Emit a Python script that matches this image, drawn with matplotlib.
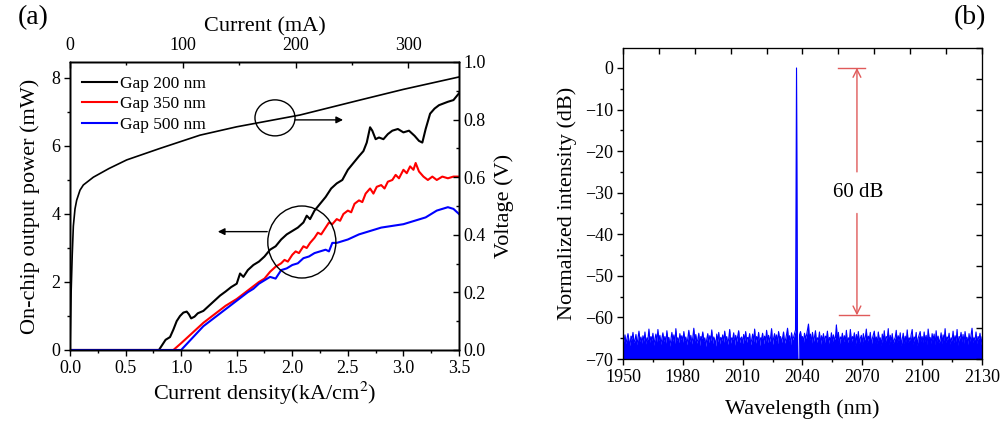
import numpy as np
import matplotlib
matplotlib.use("Agg")
import matplotlib.pyplot as plt
from matplotlib.patches import Ellipse
from matplotlib.ticker import MultipleLocator, FixedLocator, FormatStrFormatter

plt.rcParams['font.family'] = ['Liberation Serif', 'DejaVu Serif']
plt.rcParams['mathtext.fontset'] = 'stix'

# ---------------- Data: panel (a) ----------------
j_v = [0, 0.005, 0.01, 0.02, 0.03, 0.045, 0.06, 0.09, 0.12, 0.21, 0.35, 0.51, 0.81,
       1.17, 1.5, 2.07, 2.61, 3.0, 3.5]
voltage = [0, 0.1, 0.2, 0.33, 0.43, 0.49, 0.52, 0.555, 0.573, 0.60, 0.63, 0.66, 0.70,
           0.746, 0.775, 0.816, 0.868, 0.905, 0.948]

j_200 = [0, 0.80, 0.83, 0.86, 0.9, 0.93, 0.96, 0.99, 1.02, 1.05, 1.07, 1.09, 1.12, 1.15,
         1.2, 1.25, 1.3, 1.35, 1.4, 1.45, 1.5, 1.53, 1.56, 1.6, 1.65, 1.7, 1.75, 1.8,
         1.85, 1.9, 1.95, 2.0, 2.05, 2.1, 2.13, 2.16, 2.2, 2.25, 2.3, 2.35, 2.4, 2.45,
         2.5, 2.55, 2.6, 2.64, 2.67, 2.70, 2.72, 2.75, 2.78, 2.82, 2.86, 2.9, 2.95, 3.0,
         3.05, 3.1, 3.14, 3.17, 3.2, 3.24, 3.28, 3.32, 3.36, 3.4, 3.45, 3.5]
p_200 = [0, 0, 0.15, 0.3, 0.38, 0.6, 0.85, 1.0, 1.1, 1.13, 1.05, 0.93, 0.98, 1.08,
         1.15, 1.3, 1.45, 1.6, 1.72, 1.85, 1.95, 2.25, 2.15, 2.35, 2.5, 2.6, 2.75, 2.95,
         3.05, 3.25, 3.4, 3.5, 3.6, 3.75, 3.95, 3.85, 4.1, 4.3, 4.5, 4.75, 4.9, 5.0,
         5.3, 5.5, 5.7, 5.85, 6.1, 6.55, 6.45, 6.2, 6.25, 6.2, 6.35, 6.45, 6.5, 6.4,
         6.45, 6.3, 6.15, 6.1, 6.5, 6.95, 7.1, 7.2, 7.25, 7.3, 7.35, 7.55]

j_350 = [0, 0.93, 1.0, 1.1, 1.2, 1.3, 1.4, 1.5, 1.6, 1.7, 1.75, 1.8, 1.85, 1.9, 1.93,
         1.96, 2.0, 2.03, 2.06, 2.1, 2.13, 2.16, 2.2, 2.23, 2.26, 2.3, 2.33, 2.36, 2.4,
         2.43, 2.46, 2.5, 2.53, 2.56, 2.6, 2.63, 2.66, 2.7, 2.73, 2.76, 2.8, 2.83, 2.86,
         2.9, 2.93, 2.96, 3.0, 3.03, 3.06, 3.09, 3.11, 3.14, 3.18, 3.22, 3.26, 3.3, 3.35,
         3.4, 3.45, 3.5]
p_350 = [0, 0, 0.2, 0.5, 0.8, 1.05, 1.3, 1.5, 1.75, 2.0, 2.1, 2.3, 2.45, 2.55, 2.65,
         2.6, 2.8, 2.9, 2.85, 3.05, 3.0, 3.15, 3.3, 3.45, 3.4, 3.6, 3.75, 3.7, 3.85,
         3.8, 4.0, 4.1, 4.05, 4.3, 4.4, 4.35, 4.6, 4.75, 4.6, 4.8, 4.85, 4.75, 4.95,
         5.0, 5.15, 5.05, 5.3, 5.2, 5.4, 5.3, 5.5, 5.25, 5.1, 5.0, 5.1, 5.0, 5.1,
         5.05, 5.1, 5.1]

j_500 = [0, 1.0, 1.1, 1.2, 1.3, 1.4, 1.5, 1.6, 1.65, 1.7, 1.75, 1.8, 1.85, 1.9, 1.95,
         2.0, 2.05, 2.1, 2.15, 2.2, 2.25, 2.3, 2.33, 2.36, 2.4, 2.5, 2.6, 2.7, 2.75,
         2.8, 2.9, 3.0, 3.1, 3.2, 3.25, 3.3, 3.35, 3.4, 3.45, 3.5]
p_500 = [0, 0, 0.35, 0.7, 0.95, 1.2, 1.45, 1.7, 1.8, 1.95, 2.05, 2.15, 2.1, 2.35, 2.4,
         2.5, 2.55, 2.7, 2.75, 2.85, 2.9, 2.95, 2.9, 3.15, 3.15, 3.25, 3.4, 3.5, 3.55,
         3.6, 3.65, 3.7, 3.8, 3.9, 4.0, 4.1, 4.15, 4.2, 4.15, 4.0]

legend_labels = ["Gap 200 nm", "Gap 350 nm", "Gap 500 nm"]

# ---------------- Data: panel (b) ----------------
wl_start, wl_stop, wl_step = 1950, 2130, 0.5
intensity = [
    -64.8, -65.9, -64.2, -66.3, -65.1, -63.9, -65.6, -66.8, -64.5, -65.2, -63.6, -66.1, -65.4, -64.1, -66.6, -65.0, -63.3, -65.8, -64.7, -66.2,
    -64.4, -65.7, -63.5, -66.4, -64.9, -65.3, -62.8, -66.0, -64.6, -65.5, -63.8, -66.7, -65.1, -64.0, -65.9, -62.9, -65.6, -64.3, -66.5, -65.0,
    -63.7, -65.8, -64.6, -66.2, -63.2, -65.4, -64.8, -66.9, -65.2, -63.6, -65.7, -64.2, -66.3, -62.7, -65.5, -64.9, -66.1, -63.9, -65.3, -64.4,
    -66.0, -63.4, -65.6, -64.7, -66.6, -65.0, -63.1, -65.9, -64.3, -66.4, -64.8, -62.6, -65.7, -64.1, -66.2, -65.3, -63.8, -66.8, -64.6, -65.1,
    -63.5, -65.8, -64.9, -67.0, -65.2, -63.9, -66.1, -64.4, -65.6, -63.0, -66.3, -64.7, -65.4, -66.9, -64.0, -65.9, -63.6, -66.4, -64.8, -65.5,
    -64.2, -66.0, -63.3, -65.7, -64.6, -66.5, -65.1, -62.9, -66.2, -64.9, -65.3, -63.7, -66.7, -64.3, -65.8, -64.5, -63.2, -66.1, -65.0, -64.7,
    -66.3, -64.1, -65.6, -63.4, -66.0, -64.8, -65.2, -63.9, -66.6, -65.4, -64.0, -65.9, -62.8, -66.2, -64.6, -65.5, -63.6, -66.8, -64.9, -65.1,
    -63.8, -66.4, -64.5, -65.7, -63.1, -66.1, -64.3, -65.8, -64.8, -62.7, -66.5, -65.0, -63.9, -65.6, -64.2, -66.3, -63.4, -65.2, -64.6, -66.0,
    -64.9, -63.5, -66.2, -65.3, -64.1, -62.6, -65.7, -64.4, -66.6, -63.7, -65.4, -64.8, -63.9, -63.0, 0.0, -75.0, -75.0, -64.2, -63.4, -65.2,
    -64.6, -66.0, -63.8, -65.1, -64.3, -62.9, -61.6, -65.5, -64.0, -66.3, -63.6, -65.8, -64.7, -63.2, -66.1, -64.9, -65.4, -63.5, -66.6, -64.4,
    -65.7, -63.9, -66.2, -64.5, -65.0, -63.3, -66.4, -64.8, -65.6, -63.7, -66.0, -64.2, -65.3, -64.9, -61.8, -65.9, -63.6, -66.5, -64.7, -65.2,
    -63.8, -66.1, -64.4, -65.7, -63.1, -66.3, -64.9, -65.5, -62.9, -66.0, -64.6, -65.2, -63.7, -66.7, -64.1, -65.8, -63.4, -66.2, -65.0, -64.3,
    -66.4, -63.9, -65.6, -64.8, -62.8, -66.0, -64.5, -65.3, -63.6, -66.6, -65.1, -64.2, -63.3, -65.9, -64.7, -66.3, -63.5, -65.4, -64.9, -66.8,
    -64.0, -65.7, -63.2, -66.1, -64.6, -65.0, -62.7, -66.5, -64.3, -65.8, -63.9, -66.2, -65.4, -64.8, -63.1, -66.0, -64.4, -65.6, -63.7, -66.7,
    -65.2, -63.8, -66.3, -64.5, -65.9, -63.0, -66.1, -64.9, -65.5, -64.1, -62.9, -66.4, -64.7, -65.3, -63.6, -66.8, -65.0, -64.2, -63.4, -65.7,
    -64.6, -66.0, -63.5, -65.8, -64.3, -66.5, -62.8, -65.1, -64.8, -66.2, -63.9, -65.4, -64.0, -66.6, -63.2, -65.7, -64.5, -66.1, -65.3, -63.7,
    -66.3, -64.2, -65.6, -62.7, -66.0, -64.7, -65.2, -63.8, -66.4, -64.9, -65.5, -63.3, -66.1, -64.4, -65.8, -62.9, -66.7, -64.6, -65.0, -63.6,
    -65.9, -64.1, -66.2, -63.4, -65.3, -64.8, -66.5, -63.9, -65.7, -64.3, -62.6, -66.0, -64.9, -65.4, -63.5, -66.3, -64.6, -65.1, -63.8, -66.6,
    -64.7,
]
wavelength = np.arange(wl_start, wl_stop + wl_step / 2, wl_step)

# annotation values
ann_wl = 2067.3
ann_top, ann_bottom = 0.0, -59.5
ann_label = "60 dB"

# ---------------- Figure ----------------
fig = plt.figure(figsize=(10.04, 4.29), dpi=100)

ax1 = fig.add_axes([70/1004, 1-350/429, 389/1004, 288/429])
axR = ax1.twinx()
axT = ax1.twiny()

ax1.plot(j_200, p_200, color='black', lw=1.5, label=legend_labels[0])
ax1.plot(j_350, p_350, color='#ff0000', lw=1.5, label=legend_labels[1])
ax1.plot(j_500, p_500, color='#0000ff', lw=1.5, label=legend_labels[2])
axR.plot(j_v, voltage, color='black', lw=1.2)

ax1.set_xlim(0, 3.5)
ax1.set_ylim(0, 8.47)
axR.set_ylim(0, 1.0)
axT.set_xlim(0, 345)

ax1.xaxis.set_major_locator(MultipleLocator(0.5))
ax1.xaxis.set_minor_locator(MultipleLocator(0.25))
ax1.yaxis.set_major_locator(MultipleLocator(2))
ax1.yaxis.set_minor_locator(MultipleLocator(1))
axR.yaxis.set_major_locator(MultipleLocator(0.2))
axR.yaxis.set_minor_locator(MultipleLocator(0.1))
axT.xaxis.set_major_locator(MultipleLocator(100))
axT.xaxis.set_minor_locator(MultipleLocator(50))
ax1.xaxis.set_major_formatter(FormatStrFormatter('%.1f'))
axR.yaxis.set_major_formatter(FormatStrFormatter('%.1f'))

ax1.tick_params(which='major', direction='out', length=4, width=1, labelsize=13, pad=3)
ax1.tick_params(which='minor', direction='out', length=2.5, width=1)
axR.tick_params(which='major', direction='in', length=4, width=1, labelsize=13, pad=3)
axR.tick_params(which='minor', direction='in', length=2.5, width=1)
axT.tick_params(which='major', direction='in', length=4, width=1, labelsize=13, pad=5.5)
axT.tick_params(which='minor', direction='in', length=2.5, width=1)
for a in (ax1, axR, axT):
    for s in a.spines.values():
        s.set_linewidth(1.0)

ax1.set_xlabel("Current density(kA/cm$^2$)", fontsize=16, labelpad=2)
ax1.set_ylabel("On-chip output power (mW)", fontsize=16, labelpad=8)
axR.set_ylabel("Voltage (V)", fontsize=16, rotation=90, labelpad=6)
axT.set_xlabel("Current (mA)", fontsize=16, labelpad=4)

ax1.legend(loc='upper left', frameon=False, fontsize=12.5, handlelength=2.0,
           handletextpad=0.2, labelspacing=0.25, borderaxespad=0.3,
           bbox_to_anchor=(0.0, 0.995))

# circles and arrows
ax1.add_patch(Ellipse((0.527, 0.806), 0.103, 0.125, transform=ax1.transAxes,
                      fill=False, ec='black', lw=1.0, zorder=5))
ax1.add_patch(Ellipse((0.596, 0.375), 0.175, 0.25, transform=ax1.transAxes,
                      fill=False, ec='black', lw=1.0, zorder=5))
ax1.annotate("", xy=(0.702, 0.799), xytext=(0.578, 0.799), xycoords='axes fraction',
             arrowprops=dict(arrowstyle='-|>', color='black', lw=1.0,
                             mutation_scale=10, shrinkA=0, shrinkB=0))
ax1.annotate("", xy=(0.380, 0.411), xytext=(0.507, 0.411), xycoords='axes fraction',
             arrowprops=dict(arrowstyle='-|>', color='black', lw=1.0,
                             mutation_scale=10, shrinkA=0, shrinkB=0))

fig.text(33/1004, 1-18/429, "(a)", fontsize=20, ha='center', va='center')
fig.text(970/1004, 1-18/429, "(b)", fontsize=20, ha='center', va='center')

# ---------------- Panel (b) ----------------
ax2 = fig.add_axes([623/1004, 1-359/429, 359/1004, 311/429])
ax2.fill_between(wavelength, intensity, -80, color='#0000ff', lw=0)
ax2.plot(wavelength, intensity, color='#0000ff', lw=0.8)
ax2.set_xlim(1950, 2130)
ax2.set_ylim(-70, 4.8)
ax2.xaxis.set_major_locator(MultipleLocator(30))
ax2.xaxis.set_minor_locator(MultipleLocator(15))
ax2.yaxis.set_major_locator(MultipleLocator(10))
ax2.yaxis.set_minor_locator(MultipleLocator(5))
ax2.tick_params(which='major', direction='out', length=4, width=1, labelsize=13, pad=3)
ax2.tick_params(which='minor', direction='out', length=2.5, width=1)
ax2.set_xlabel("Wavelength (nm)", fontsize=16, labelpad=10)
ax2.set_ylabel("Normalized intensity (dB)", fontsize=16, labelpad=6)

ax2t = ax2.twiny()
ax2t.set_xlim(0, 10)
ax2t.xaxis.set_major_locator(FixedLocator(list(range(11))))
ax2t.tick_params(axis='x', direction='in', length=4, width=1, labeltop=False)
ax2r = ax2.twinx()
ax2r.set_ylim(0, 10)
ax2r.yaxis.set_major_locator(FixedLocator(list(range(11))))
ax2r.tick_params(axis='y', direction='in', length=4, width=1, labelright=False)

red = '#e05a5a'
ax2.plot([2057.8, 2071.5], [ann_top, ann_top], color=red, lw=1.0)
ax2.plot([2058.3, 2073.3], [ann_bottom, ann_bottom], color=red, lw=1.0)
ax2.annotate("", xy=(ann_wl, ann_top), xytext=(ann_wl, -25), xycoords='data',
             arrowprops=dict(arrowstyle='->', color=red, lw=1.0, shrinkA=0, shrinkB=0,
                             mutation_scale=14))
ax2.annotate("", xy=(ann_wl, ann_bottom), xytext=(ann_wl, -35), xycoords='data',
             arrowprops=dict(arrowstyle='->', color=red, lw=1.0, shrinkA=0, shrinkB=0,
                             mutation_scale=14))
ax2.text(ann_wl + 0.5, -30, ann_label, fontsize=15, ha='center', va='center')

fig.savefig("out.png", dpi=100)
